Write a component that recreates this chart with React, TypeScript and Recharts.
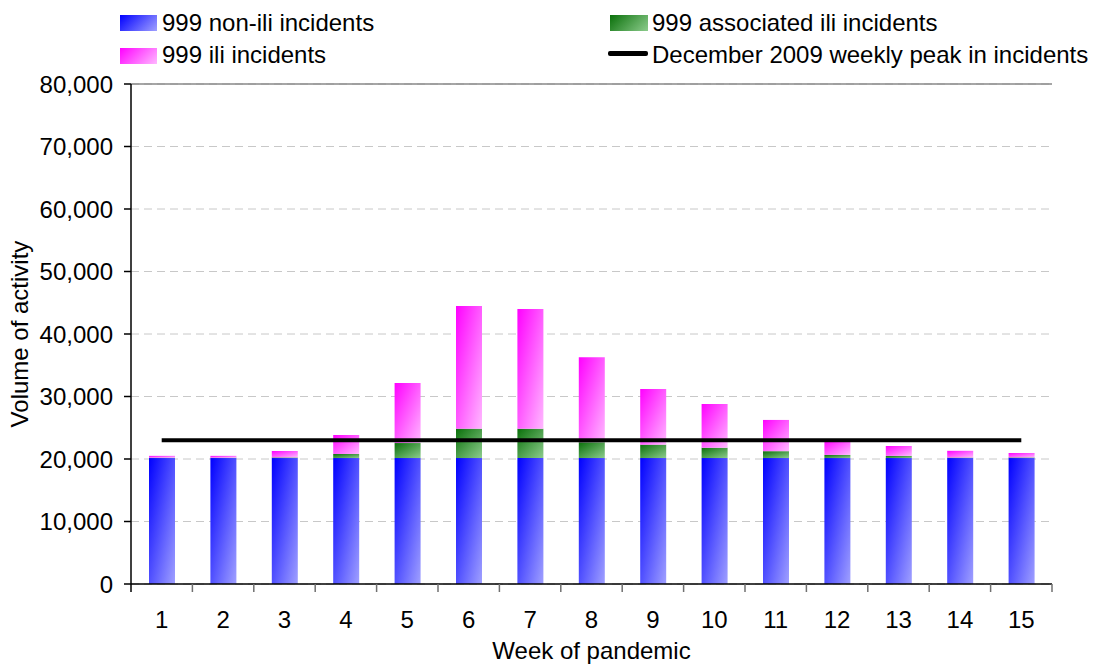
import React from 'react';
import { ComposedChart, Bar, Line, XAxis, YAxis, CartesianGrid, ReferenceLine } from 'recharts';

const weeks = ['1', '2', '3', '4', '5', '6', '7', '8', '9', '10', '11', '12', '13', '14', '15'];
const nonIli = [20150, 20150, 20150, 20150, 20150, 20150, 20150, 20150, 20150, 20150, 20150, 20150, 20150, 20150, 20150];
const assocIli = [50, 50, 100, 650, 2400, 4700, 4700, 2550, 2150, 1650, 1100, 500, 350, 80, 100];
const ili = [300, 300, 1030, 3040, 9600, 19630, 19150, 13600, 8900, 7000, 5000, 2350, 1580, 1080, 710];
const decPeak = [23000, 23000, 23000, 23000, 23000, 23000, 23000, 23000, 23000, 23000, 23000, 23000, 23000, 23000, 23000];
const yTicks = [0, 10000, 20000, 30000, 40000, 50000, 60000, 70000, 80000];

const data = weeks.map((w, i) => ({
  week: w,
  nonIli: nonIli[i],
  assocIli: assocIli[i],
  ili: ili[i],
  peak: decPeak[i],
}));

const FONT = '"Liberation Sans", Arial, sans-serif';
const FS = 24;

const XTick = (props: any) => {
  const { x, y, payload, index, visibleTicksCount, width } = props;
  const half = payload && typeof payload.offset === 'number' && payload.offset > 0
    ? payload.offset
    : width / (visibleTicksCount || 15) / 2;
  const axisY = y - 8;
  return (
    <g>
      <line x1={x - half} y1={axisY} x2={x - half} y2={axisY + 8} stroke={index === 0 ? '#000' : '#707070'} strokeWidth={1.5} />
      {index === (visibleTicksCount || 15) - 1 && (
        <line x1={x + half} y1={axisY} x2={x + half} y2={axisY + 8} stroke="#707070" strokeWidth={1.5} />
      )}
      <text x={x} y={axisY + 44} textAnchor="middle" fontSize={FS} fontFamily={FONT} fill="#000">
        {payload.value}
      </text>
    </g>
  );
};

const fmt = (v: number) => v.toLocaleString('en-US');

const legendText: React.CSSProperties = {
  position: 'absolute',
  fontFamily: FONT,
  fontSize: FS,
  color: '#000',
  lineHeight: '24px',
  whiteSpace: 'nowrap',
};

export default function App() {
  return (
    <div style={{ position: 'relative', width: 1080, height: 656 }}>
      <ComposedChart
        width={1080}
        height={656}
        data={data}
        margin={{ top: 76, right: 36, bottom: 0, left: 0 }}
        barGap={0}
      >
        <defs>
          <linearGradient id="gBlue" x1="0" y1="0" x2="1" y2="1">
            <stop offset="0%" stopColor="#0000ff" />
            <stop offset="100%" stopColor="#a0a0ff" />
          </linearGradient>
          <linearGradient id="gGreen" x1="0" y1="0" x2="1" y2="1">
            <stop offset="0%" stopColor="#0a700a" />
            <stop offset="100%" stopColor="#8ccc8c" />
          </linearGradient>
          <linearGradient id="gPink" x1="0" y1="0" x2="1" y2="1">
            <stop offset="0%" stopColor="#ff00ff" />
            <stop offset="100%" stopColor="#ffb8ff" />
          </linearGradient>
        </defs>
        <CartesianGrid vertical={false} stroke="#c8c8c8" strokeDasharray="8 5" />
        <XAxis
          dataKey="week"
          height={80}
          axisLine={{ stroke: '#000', strokeWidth: 1.5 }}
          tickLine={false}
          tickSize={8}
          tickMargin={0}
          interval={0}
          tick={<XTick />}
          label={{
            content: (p: any) => {
              const vb = p.viewBox;
              return (
                <text x={vb.x + vb.width / 2} y={vb.y + 75} textAnchor="middle" fontSize={FS} fontFamily={FONT} fill="#000">
                  Week of pandemic
                </text>
              );
            },
          }}
        />
        <YAxis
          width={123}
          domain={[0, 80000]}
          ticks={yTicks}
          interval={0}
          tickFormatter={fmt}
          axisLine={{ stroke: '#000', strokeWidth: 1.5 }}
          tickLine={{ stroke: '#000', strokeWidth: 1.5 }}
          tickSize={7}
          tickMargin={11}
          tick={{ fontSize: FS, fontFamily: FONT, fill: '#000' }}
          label={{
            content: (p: any) => {
              const vb = p.viewBox;
              const cx = 11;
              const cy = vb.y + vb.height / 2;
              return (
                <text x={cx} y={cy} transform={`rotate(-90 ${cx} ${cy})`} textAnchor="middle" dominantBaseline="central" fontSize={FS} fontFamily={FONT} fill="#000">
                  Volume of activity
                </text>
              );
            },
          }}
        />
        <YAxis
          yAxisId="right"
          orientation="right"
          width={0}
          domain={[0, 80000]}
          tick={false}
          tickLine={false}
          axisLine={{ stroke: '#888', strokeWidth: 1.5 }}
        />
        <ReferenceLine y={80000} stroke="#888" strokeWidth={1.5} />
        <Bar dataKey="nonIli" stackId="s" fill="url(#gBlue)" barSize={26} isAnimationActive={false} />
        <Bar dataKey="assocIli" stackId="s" fill="url(#gGreen)" barSize={26} isAnimationActive={false} />
        <Bar dataKey="ili" stackId="s" fill="url(#gPink)" barSize={26} isAnimationActive={false} />
        <Line dataKey="peak" stroke="#000" strokeWidth={4} dot={false} activeDot={false} isAnimationActive={false} />
      </ComposedChart>

      <div style={{ position: 'absolute', left: 112, top: 7, width: 37, height: 16, background: 'linear-gradient(135deg, #0000ff, #a0a0ff)' }} />
      <div style={{ ...legendText, left: 154, top: 3 }}>999 non-ili incidents</div>
      <div style={{ position: 'absolute', left: 112, top: 40, width: 37, height: 16, background: 'linear-gradient(135deg, #ff00ff, #ffb8ff)' }} />
      <div style={{ ...legendText, left: 154, top: 35 }}>999 ili incidents</div>
      <div style={{ position: 'absolute', left: 602, top: 7, width: 38, height: 16, background: 'linear-gradient(135deg, #0a700a, #8ccc8c)' }} />
      <div style={{ ...legendText, left: 644, top: 3 }}>999 associated ili incidents</div>
      <div style={{ position: 'absolute', left: 600, top: 43, width: 40, height: 5, background: '#000', borderRadius: 2 }} />
      <div style={{ ...legendText, left: 644, top: 35 }}>December 2009 weekly peak in incidents</div>
    </div>
  );
}
